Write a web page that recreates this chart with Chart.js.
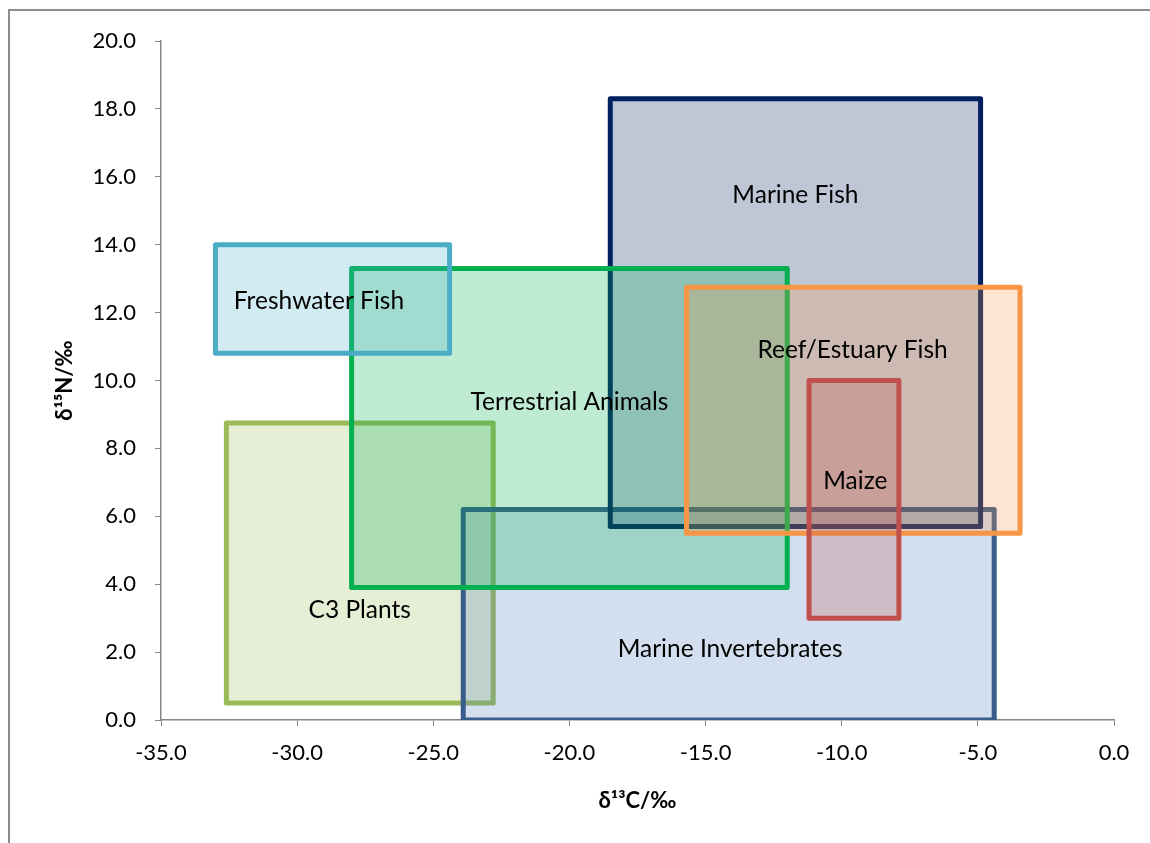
<!DOCTYPE html>
<html>
<head>
<meta charset="utf-8">
<script src="https://cdn.jsdelivr.net/npm/chart.js@4/dist/chart.umd.min.js"></script>
<style>
  body { margin: 0; background: #fff; }
  #wrap { position: relative; width: 1150px; height: 843px; overflow: hidden; }
  #frame { position: absolute; left: 8px; top: 9px; width: 1200px; height: 900px; border: 2px solid #8c8c8c; }
  canvas { position: absolute; left: 0; top: 0; }
</style>
</head>
<body>
<div id="wrap">
  <div id="frame"></div>
  <canvas id="isoChart" width="1150" height="843"></canvas>
</div>
<script>
// isotope ranges, top-most group first
const groups = ['Maize', 'Reef/Estuary Fish', 'Freshwater Fish', 'Terrestrial Animals', 'Marine Fish', 'Marine Invertebrates', 'C3 Plants'];
const c13Min = [-11.2, -15.7, -33.0, -28.0, -18.5, -23.9, -32.6];
const c13Max = [-7.9, -3.45, -24.4, -12.0, -4.9, -4.4, -22.8];
const n15Min = [3.0, 5.5, 10.8, 3.9, 5.7, 0.0, 0.5];
const n15Max = [10.0, 12.75, 14.0, 13.3, 18.3, 6.2, 8.75];
// where each name sits (in axis units)
const labelC = [-9.5, -9.6, -29.2, -20.0, -11.7, -14.1, -27.7];
const labelN = [7.05, 10.9, 12.35, 9.35, 15.45, 2.1, 3.25];

const xTicks = [-35, -30, -25, -20, -15, -10, -5, 0];
const yTicks = [0, 2, 4, 6, 8, 10, 12, 14, 16, 18, 20];

const lineCols = ['#C0504D', '#F79646', '#4BACC6', '#00B050', '#002060', '#385D8A', '#9BBB59'];
const fillCols = ['rgba(192,80,77,0.25)', 'rgba(247,150,70,0.25)', 'rgba(75,172,198,0.25)', 'rgba(0,176,80,0.25)',
                  'rgba(0,32,96,0.25)', 'rgba(79,129,189,0.25)', 'rgba(155,187,89,0.25)'];

const font = 'Lato, "Open Sans", sans-serif';

const datasets = groups.map(function (g, i) {
    return {
        label: g,
        data: [
            { x: c13Min[i], y: n15Min[i] },
            { x: c13Max[i], y: n15Min[i] },
            { x: c13Max[i], y: n15Max[i] },
            { x: c13Min[i], y: n15Max[i] },
            { x: c13Min[i], y: n15Min[i] }
        ],
        showLine: true,
        fill: 'shape',
        backgroundColor: fillCols[i],
        borderColor: lineCols[i],
        borderWidth: 5,
        borderJoinStyle: 'round',
        borderCapStyle: 'round',
        pointRadius: 0,
        pointHoverRadius: 0,
        tension: 0
    };
});

const boxNames = {
    id: 'boxNames',
    afterDatasetsDraw(chart) {
        const { ctx, scales: { x, y } } = chart;
        ctx.save();
        ctx.font = '24.5px ' + font;
        ctx.fillStyle = '#000';
        ctx.textAlign = 'center';
        ctx.textBaseline = 'middle';
        groups.forEach(function (g, i) {
            ctx.fillText(g, x.getPixelForValue(labelC[i]), y.getPixelForValue(labelN[i]));
        });
        ctx.restore();
    }
};

const ctx = document.getElementById('isoChart').getContext('2d');

new Chart(ctx, {
    type: 'scatter',
    data: { datasets: datasets },
    options: {
        responsive: false,
        animation: false,
        events: [],
        layout: { padding: { top: 41, right: 36, left: 0, bottom: 0 } },
        plugins: {
            legend: { display: false },
            tooltip: { enabled: false }
        },
        scales: {
            x: {
                type: 'linear',
                min: -35,
                max: 0,
                afterFit: s => { s.height = 123; },
                afterBuildTicks: s => { s.ticks = xTicks.map(v => ({ value: v })); },
                ticks: {
                    color: '#000',
                    padding: 14,
                    maxRotation: 0,
                    font: { family: font, size: 22 },
                    callback: v => v.toFixed(1)
                },
                grid: { drawOnChartArea: false, drawTicks: true, tickLength: 6, color: '#868686' },
                border: { color: '#868686', width: 1.5 },
                title: {
                    display: true,
                    text: 'δ¹³C/‰',
                    color: '#000',
                    font: { family: font, size: 22, weight: 'bold' },
                    padding: { top: 0, bottom: 29 }
                }
            },
            y: {
                type: 'linear',
                min: 0,
                max: 20,
                afterFit: s => { s.width = 161; },
                afterBuildTicks: s => { s.ticks = yTicks.map(v => ({ value: v })); },
                ticks: {
                    color: '#000',
                    padding: 19,
                    font: { family: font, size: 22 },
                    callback: v => v.toFixed(1)
                },
                grid: { drawOnChartArea: false, drawTicks: true, tickLength: 6, color: '#868686' },
                border: { color: '#868686', width: 1.5 },
                title: {
                    display: true,
                    text: 'δ¹⁵N/‰',
                    color: '#000',
                    font: { family: font, size: 22, weight: 'bold' },
                    padding: { top: 52, bottom: 0 }
                }
            }
        }
    },
    plugins: [boxNames]
});
</script>
</body>
</html>
